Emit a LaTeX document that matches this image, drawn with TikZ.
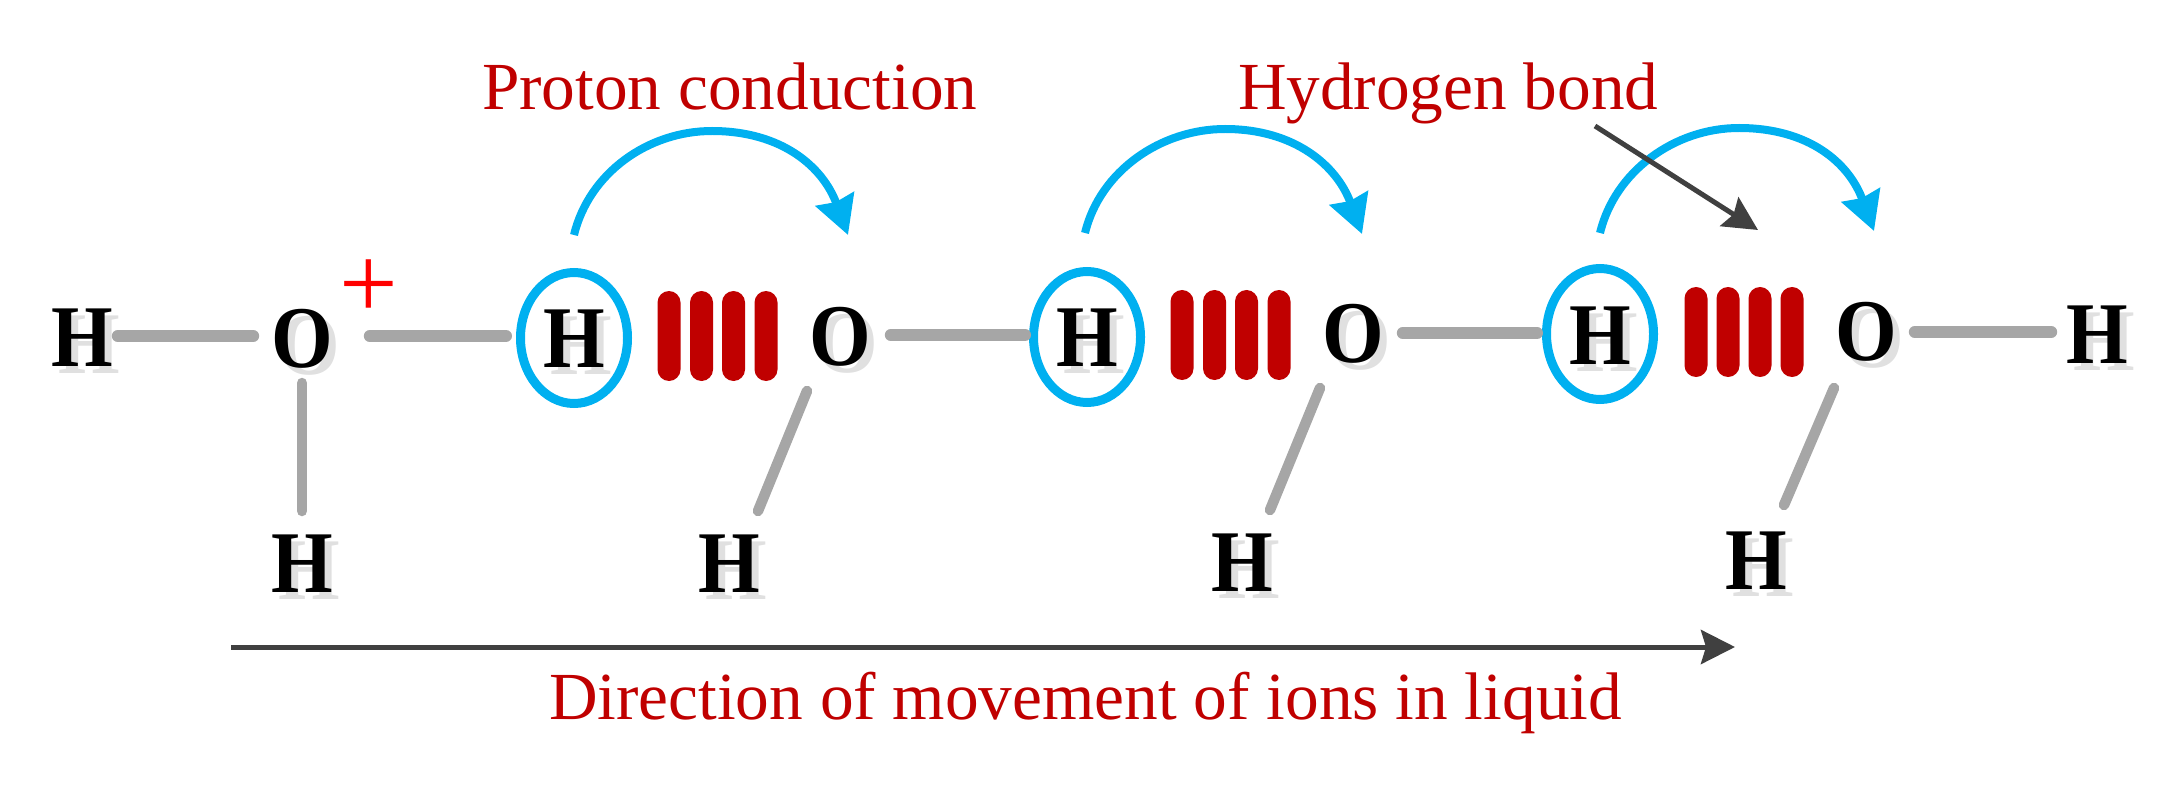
\documentclass[tikz,border=0pt]{standalone}
\usepackage{fontspec}
\setmainfont{Liberation Serif}
\newfontfamily\atomfont[FakeStretch=0.9]{Liberation Serif}
\usetikzlibrary{arrows.meta,shapes.geometric,calc}
\definecolor{bondgray}{HTML}{A6A6A6}
\definecolor{shadowgray}{HTML}{E0E0E0}
\definecolor{darkred}{HTML}{C00000}
\definecolor{skyblue}{HTML}{00B0F0}
\definecolor{arrowgray}{HTML}{404040}
\tikzset{
  x=1pt,y=-1pt,
  atom/.style={inner sep=0pt,outer sep=0pt,text height=58pt,text depth=0pt,font=\atomfont\fontsize{88}{88}\selectfont\bfseries,text=black},
  atomshadow/.style={atom,text=shadowgray},
  bondmain/.style={draw=bondgray,line width=12pt,line cap=round},
  bondthin/.style={draw=bondgray,line width=10.5pt,line cap=round},
  hbondbar/.style={fill=darkred,draw=none,minimum width=23pt,minimum height=90pt,rounded corners=11.5pt,inner sep=0pt,outer sep=0pt},
  ringmark/.style={ellipse,draw=skyblue,line width=9pt,minimum width=107pt,minimum height=131pt,inner sep=0pt,outer sep=0pt},
  hoparrow/.style={draw=skyblue,line width=8pt,-{Stealth[length=38pt,width=40pt,inset=3pt]}},
  pointerarrow/.style={draw=arrowgray,line width=5pt,-{Stealth[length=34pt,width=34pt,inset=5pt]}},
  caption/.style={inner sep=0pt,outer sep=0pt,anchor=base west,text=darkred,font=\fontsize{67.3}{67.3}\selectfont},
}
\newcommand{\atomshadowat}[4]{\node[atomshadow] (#1s) at (#2+7,#3+7) {#4};}
\newcommand{\atomat}[4]{\node[atom] (#1) at (#2,#3) {#4};}
\begin{document}
\begin{tikzpicture}
\useasboundingbox (0,0) rectangle (2168,786);
% shadows
\atomshadowat{ha}{82}{337}{H}
\atomshadowat{oa}{302}{338}{O}
\atomshadowat{hb}{302}{563}{H}
\atomshadowat{hc}{574}{338}{H}
\atomshadowat{od}{840}{336}{O}
\atomshadowat{he}{729}{563}{H}
\atomshadowat{hf}{1087}{337}{H}
\atomshadowat{og}{1353}{333}{O}
\atomshadowat{hh}{1242}{562}{H}
\atomshadowat{hi}{1600}{335}{H}
\atomshadowat{oj}{1866}{331}{O}
\atomshadowat{hk}{1756}{560}{H}
\atomshadowat{hl}{2097}{334}{H}
% atoms
\atomat{ha}{82}{337}{H}
\atomat{oa}{302}{338}{O}
\atomat{hb}{302}{563}{H}
\atomat{hc}{574}{338}{H}
\atomat{od}{840}{336}{O}
\atomat{he}{729}{563}{H}
\atomat{hf}{1087}{337}{H}
\atomat{og}{1353}{333}{O}
\atomat{hh}{1242}{562}{H}
\atomat{hi}{1600}{335}{H}
\atomat{oj}{1866}{331}{O}
\atomat{hk}{1756}{560}{H}
\atomat{hl}{2097}{334}{H}
\node[inner sep=0pt,outer sep=0pt,anchor=base,text=red,font=\fontsize{104}{104}\selectfont] (plus) at (369,318.5) {+};
% rings
\node[ringmark] (ra) at (574,338) {};
\node[ringmark] (rb) at (1087,337) {};
\node[ringmark] (rc) at (1600,334) {};
% hydrogen-bond bars
\foreach \n/\bx/\by in {a/669/336,b/701.5/336,c/733.5/336,d/766/336,
                        e/1182/335,f/1214.5/335,g/1246.5/335,h/1279/335,
                        i/1696/332,j/1728/332,k/1760/332,l/1792/332}
  \node[hbondbar] (bar\n) at (\bx,\by) {};
% bonds (xshift/yshift are in page axes: positive yshift is up)
\draw[bondmain] ([xshift=5pt,yshift=1pt]ha.east) -- ([xshift=-18pt,yshift=2pt]oa.west);
\draw[bondmain] ([xshift=37pt,yshift=2pt]oa.east) -- ([xshift=-14.5pt,yshift=2pt]ra.west);
\draw[bondmain] ([xshift=20pt,yshift=1pt]od.east) -- ([xshift=-8.5pt,yshift=2pt]rb.west);
\draw[bondmain] ([xshift=19pt]og.east) -- ([xshift=-9.5pt,yshift=1pt]rc.west);
\draw[bondmain] ([xshift=18pt,yshift=-1pt]oj.east) -- ([xshift=-15pt,yshift=2pt]hl.west);
\draw[bondthin] ([yshift=-16pt]oa.south) -- ([yshift=23pt]hb.north);
\draw[bondthin] ([xshift=-33pt,yshift=-26pt]od.south) -- ([xshift=29pt,yshift=23pt]he.north);
\draw[bondthin] ([xshift=-33pt,yshift=-26pt]og.south) -- ([xshift=28pt,yshift=23pt]hh.north);
\draw[bondthin] ([xshift=-32pt,yshift=-28pt]oj.south) -- ([xshift=28pt,yshift=26pt]hk.north);
% curved proton hops
\coordinate (sa) at (574,235); \coordinate (ta) at (712,131); \coordinate (ea) at (848,235);
\coordinate (sb) at (1085,233); \coordinate (tb) at (1225,129); \coordinate (eb) at (1362,234);
\coordinate (sc) at (1600,233); \coordinate (tc) at (1739,128); \coordinate (ec) at (1874,231);
\foreach \s/\t/\e in {sa/ta/ea,sb/tb/eb,sc/tc/ec}{
  \draw[hoparrow] (\s) .. controls ($(\s)+(15,-62)$) and ($(\t)+(-64,0)$) .. (\t)
     .. controls ($(\t)+(70,0)$) and ($(\e)+(-25,-68)$) .. (\e);
}
% texts
\node[caption] (proton) at (482,110) {Proton conduction};
\node[caption] (hbond) at (1238,110) {Hydrogen bond};
\node[caption] (direction) at (549,719) {Direction of movement of ions in liquid};
% straight arrows
\coordinate (ps) at (1595,126); \coordinate (pe) at (1758,230);
\draw[pointerarrow] (ps) -- (pe);
\coordinate (ds) at (231,647); \coordinate (de) at (1735,647);
\draw[pointerarrow] (ds) -- (de);
\end{tikzpicture}
\end{document}
